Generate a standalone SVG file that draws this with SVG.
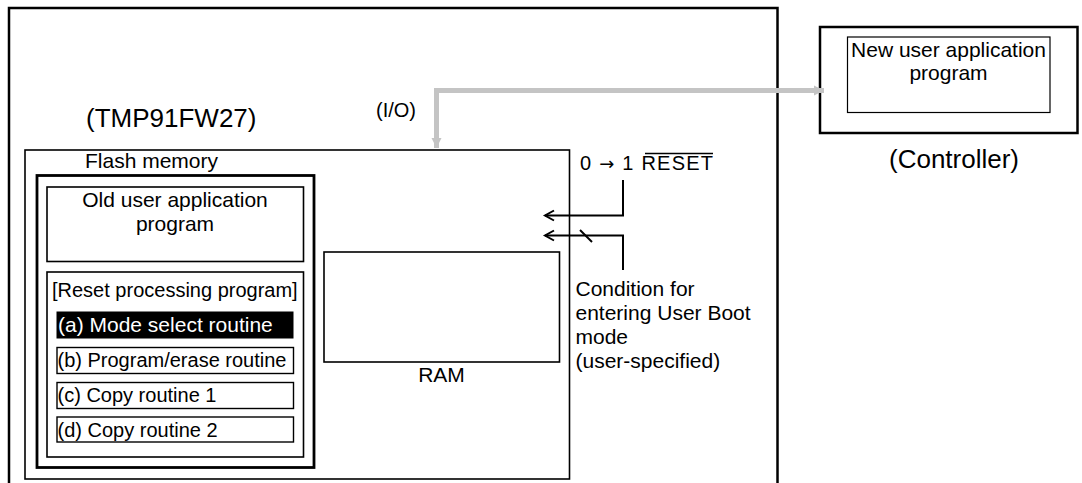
<svg xmlns="http://www.w3.org/2000/svg" width="1082" height="483" viewBox="0 0 1082 483">
<style>
text{font-family:"Liberation Sans",Arial,sans-serif;fill:#000}
.b{fill:none;stroke:#000}
.big{font-size:26px}
.m{font-size:21px}
.s{font-size:20px}
.c{text-anchor:middle}
.gray{fill:none;stroke:#c4c4c4;stroke-width:5}
.ar{fill:none;stroke:#000;stroke-width:2}
</style>
<defs>
<marker id="gh" markerUnits="userSpaceOnUse" markerWidth="12" markerHeight="12" refX="10" refY="6" orient="auto">
<path d="M0,1 L10,6 L0,11 Z" fill="#c4c4c4"/>
</marker>
<marker id="oh" markerUnits="userSpaceOnUse" markerWidth="14" markerHeight="14" refX="11" refY="7" orient="auto">
<path d="M2,2 L11,7 L2,12" fill="none" stroke="#000" stroke-width="2"/>
</marker>
</defs>
<rect width="1082" height="483" fill="#fff"/>

<g id="mcu">
<rect class="b" x="9" y="8" width="768.5" height="490" stroke-width="2.5"/>
<text class="big" x="86" y="127">(TMP91FW27)</text>
</g>

<g id="controller">
<rect class="b" x="820" y="27" width="257.5" height="106" stroke-width="2.5"/>
<rect class="b" x="847.5" y="37" width="202.5" height="75.5" stroke-width="1.2"/>
<text class="m c" x="948.5" y="57">New user application</text>
<text class="m c" x="948.5" y="80">program</text>
<text class="big" x="889" y="168">(Controller)</text>
</g>

<g id="io-label">
<text class="s" x="376" y="117">(I/O)</text>
</g>

<g id="chip">
<rect class="b" x="25" y="150" width="544.5" height="329" stroke-width="1.6"/>
<text class="m" x="85" y="168">Flash memory</text>
</g>

<g id="flash">
<rect class="b" x="37" y="175.5" width="277" height="292" stroke-width="2.8"/>
</g>

<g id="old-program">
<rect class="b" x="47" y="187" width="256.5" height="74.5" stroke-width="1.6"/>
<text class="m c" x="175" y="207">Old user application</text>
<text class="m c" x="175" y="231">program</text>
</g>

<g id="reset-program">
<rect class="b" x="47" y="272" width="256.5" height="185" stroke-width="1.6"/>
<text class="s" x="52" y="297">[Reset processing program]</text>
</g>

<g id="routine-a">
<rect x="56.5" y="311.5" width="237" height="27" fill="#000"/>
<text class="m" x="58" y="332" style="fill:#fff">(a) Mode select routine</text>
</g>
<g id="routine-b">
<rect class="b" x="57" y="347.5" width="236.5" height="26" stroke-width="1.4"/>
<text class="s" x="57.5" y="367">(b) Program/erase routine</text>
</g>
<g id="routine-c">
<rect class="b" x="57" y="382.5" width="236.5" height="26" stroke-width="1.4"/>
<text class="s" x="57.5" y="402">(c) Copy routine 1</text>
</g>
<g id="routine-d">
<rect class="b" x="57" y="417" width="236.5" height="25" stroke-width="1.4"/>
<text class="s" x="57.5" y="437">(d) Copy routine 2</text>
</g>

<g id="ram">
<rect class="b" x="324" y="252" width="235.5" height="110" stroke-width="1.6"/>
<text class="m c" x="441.5" y="382">RAM</text>
</g>

<g id="reset-label">
<text class="s" x="580" y="170" textLength="133" lengthAdjust="spacing">0 <tspan style="font-family:'DejaVu Sans',sans-serif" font-size="18">→</tspan> 1 RESET</text>
<line x1="645" y1="153.5" x2="713" y2="153.5" stroke="#000" stroke-width="1.3"/>
</g>

<g id="condition-label">
<text class="m" x="575.5" y="296">Condition for</text>
<text class="m" x="575.5" y="320">entering User Boot</text>
<text class="m" x="575.5" y="344">mode</text>
<text class="m" x="575.5" y="368">(user-specified)</text>
</g>

<g id="connectors">
<path class="gray" d="M824,90.5 L436.5,90.5 L436.5,148" marker-end="url(#gh)"/>
<path class="gray" d="M436.5,90.5 L824,90.5" marker-end="url(#gh)"/>
<path class="ar" d="M623,180 L623,215.5 L545,215.5" marker-end="url(#oh)"/>
<path class="ar" d="M623,270 L623,235.5 L545,235.5" marker-end="url(#oh)"/>
<line x1="580" y1="230" x2="592" y2="242" stroke="#000" stroke-width="2"/>
</g>
</svg>
